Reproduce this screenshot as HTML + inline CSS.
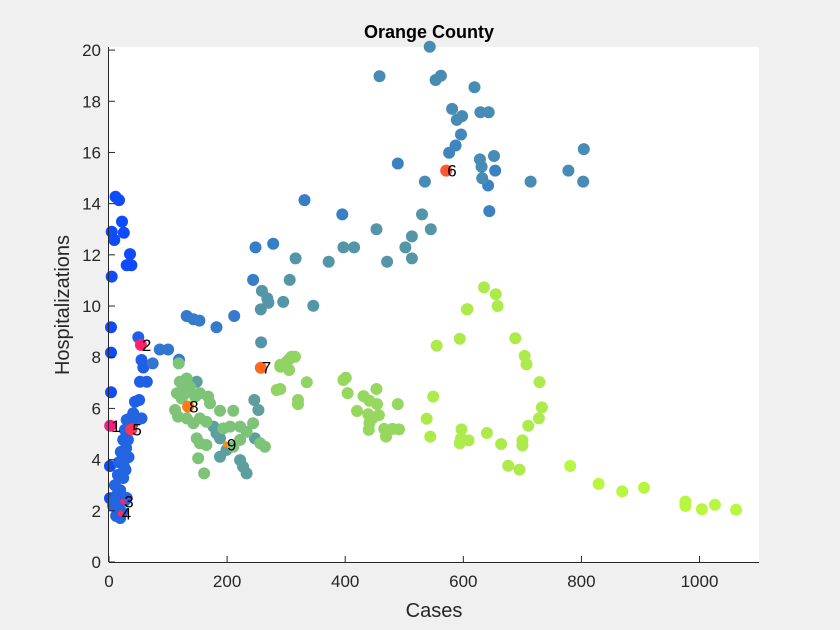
<!DOCTYPE html>
<html><head><meta charset="utf-8"><style>
html,body{margin:0;padding:0;background:#f0f0f0;}
svg{display:block;font-family:"Liberation Sans",sans-serif;}
</style></head><body>
<svg id="chart" width="840" height="630" viewBox="0 0 840 630" xmlns="http://www.w3.org/2000/svg">
<rect x="0" y="0" width="840" height="630" fill="#f0f0f0"/>
<rect x="109" y="47" width="650" height="515" fill="#ffffff"/>
<g id="marks"></g>
<g id="axes"></g>
<text x="429" y="38" text-anchor="middle" font-size="18" font-weight="bold" fill="#000">Orange County</text>
<text x="434" y="617" text-anchor="middle" font-size="20" fill="#262626">Cases</text>
<text transform="translate(69,305) rotate(-90)" text-anchor="middle" font-size="20" fill="#262626">Hospitalizations</text>
</svg>
<script>
// data arrays
const xs = [
11,17,22,4.5,25,9,35.6,30,38,4.5,3.4,3.4,3.4,1.7,1.7,
49.7,55,58,52.5,64,44,51,41,55,30,27,24,32,20,29,17,25,15,24,10,19,8,27,15,22,12,19,30,7,13,35,40,33,28,
118.5,86,100,74,131.5,143,153,182,212,248,278,244,331,395,489,644,642,654,587,576,596,
543,458,553,562,619,581,598,589,629,643,628,652,631,632,714,804,778,803,535,
306,259,268,270,257,295,346,316,372,397,415,453,471,502,513,513,530,545,257.5,
246,253,247,188,222,227,233,199,188,182,177,148.5,
118,131.5,126,120,137,115,129,123,146,154,168,171,188,210.5,112,117,131.5,143,154,165,193.5,205,222,233,244,256,264,148.5,154,165,210.5,222,151,161,
284,301,290,309,315,304,305,290,335,320,320,290,397,401,404,453,431,441,454,420,439,457,446,441,440,466,480,491,469,489,
635,655,658,607,606,594,555,688,704,707,729,733,728,710,700,700,664,640,676,695,549,538,544,597,609,594,596,
781,829,869,906,976,976,1004,1026,1062
];
const ys = [
14.27,14.14,13.3,12.9,12.86,12.58,12.03,11.59,11.59,11.15,9.17,8.18,6.63,3.75,2.49,
8.78,7.89,7.6,7.04,7.04,6.26,6.33,5.81,5.61,5.55,5.16,4.77,4.77,4.3,4.45,3.9,3.75,3.4,3.28,3.0,2.8,2.4,2.4,2.1,1.95,1.8,1.72,2.5,2.2,2.6,5.6,5.4,4.1,3.6,
7.9,8.3,8.3,7.76,9.61,9.48,9.43,9.17,9.61,12.29,12.43,11.02,14.14,13.58,15.57,13.71,14.71,15.29,16.27,15.99,16.7,
20.13,18.98,18.83,19.0,18.55,17.7,17.42,17.27,17.57,17.57,15.73,15.86,15.44,14.99,14.86,16.13,15.29,14.86,14.86,
11.02,10.59,10.3,10.13,9.87,10.16,10.01,11.86,11.73,12.29,12.29,13.0,11.73,12.29,11.86,12.72,13.58,13.0,8.58,
6.33,5.94,4.83,4.11,3.98,3.72,3.46,4.38,4.83,5.03,5.29,7.04,
7.76,7.17,6.98,7.04,6.85,6.59,6.59,6.39,6.46,6.59,6.46,6.2,5.91,5.91,5.94,5.68,5.61,5.42,5.61,5.48,5.22,5.29,5.29,5.09,5.42,4.64,4.5,4.83,4.64,4.57,4.5,4.77,4.05,3.46,
6.72,7.82,7.7,8.02,8.02,7.89,7.5,7.63,7.02,6.33,6.17,6.76,7.11,7.2,6.6,6.76,6.48,6.3,6.17,5.9,5.77,5.74,5.61,5.42,5.16,5.2,5.2,5.18,4.9,6.17,
10.73,10.46,10.0,9.88,9.87,8.72,8.45,8.74,8.05,7.72,7.03,6.04,5.61,5.32,4.75,4.55,4.61,5.04,3.76,3.61,6.46,5.6,4.9,5.18,4.75,4.64,4.83,
3.75,3.05,2.76,2.9,2.36,2.19,2.06,2.24,2.04
];
const ts = [
0.02,0.02,0.02,0.02,0.02,0.02,0.02,0.02,0.02,0.02,0.02,0.02,0.02,0.02,0.02,
0.1,0.1,0.1,0.1,0.1,0.1,0.1,0.12,0.12,0.12,0.12,0.12,0.12,0.12,0.12,0.12,0.12,0.12,0.12,0.12,0.12,0.12,0.12,0.12,0.12,0.12,0.12,0.12,0.12,0.12,0.12,0.12,0.12,0.12,
0.28,0.25,0.25,0.25,0.28,0.28,0.28,0.28,0.28,0.3,0.3,0.3,0.3,0.32,0.35,0.35,0.35,0.35,0.38,0.38,0.4,
0.45,0.45,0.45,0.45,0.45,0.45,0.45,0.45,0.45,0.45,0.45,0.45,0.45,0.45,0.45,0.45,0.45,0.45,0.45,
0.55,0.55,0.55,0.55,0.55,0.55,0.55,0.55,0.55,0.55,0.55,0.55,0.55,0.55,0.55,0.55,0.55,0.55,0.55,
0.6,0.6,0.6,0.6,0.6,0.6,0.6,0.6,0.6,0.6,0.6,0.6,
0.72,0.72,0.72,0.72,0.72,0.72,0.72,0.72,0.72,0.72,0.72,0.72,0.72,0.72,0.72,0.72,0.72,0.72,0.72,0.72,0.72,0.72,0.72,0.72,0.72,0.72,0.72,0.72,0.72,0.72,0.72,0.72,0.72,0.72,
0.8,0.8,0.8,0.8,0.8,0.8,0.8,0.8,0.8,0.8,0.8,0.8,0.82,0.82,0.82,0.82,0.82,0.82,0.82,0.82,0.82,0.82,0.82,0.82,0.82,0.82,0.82,0.82,0.82,0.82,
0.9,0.9,0.9,0.9,0.9,0.9,0.9,0.9,0.9,0.9,0.9,0.9,0.9,0.9,0.9,0.9,0.9,0.9,0.9,0.9,0.9,0.9,0.9,0.9,0.9,0.9,0.9,
0.97,0.97,0.97,0.97,0.97,0.97,0.97,0.97,0.97
];
const markX = [2,54,24,20,38,571,257,134,198];
const markY = [5.32,8.48,2.36,1.9,5.18,15.29,7.59,6.07,4.6];
const markLabels = ["1","2","3","4","5","6","7","8","9"];
const markColors = ["#ff1a7a","#ff2266","#ff2266","#ff2a60","#ff3355","#ff5533","#ff6622","#ff7a10","#ff8a10"];
const xTicks = [0,200,400,600,800,1000];
const yTicks = [0,2,4,6,8,10,12,14,16,18,20];

const X0=109, X1=759, Y0=562, Y1=47, XMAX=1100.7, YMAX=20.12;
function sx(v){return X0+v/XMAX*(X1-X0);}
function sy(v){return Y0-v/YMAX*(Y0-Y1);}
const stops=[[0,[10,70,255]],[0.12,[35,100,225]],[0.3,[55,125,200]],[0.45,[70,140,180]],[0.58,[88,152,165]],[0.72,[125,195,120]],[0.82,[150,215,95]],[0.9,[172,235,75]],[1,[190,250,60]]];
function cmap(t){
  for(let i=1;i<stops.length;i++){
    if(t<=stops[i][0]){
      const a=stops[i-1],b=stops[i],f=(t-a[0])/(b[0]-a[0]);
      const c=a[1].map((v,k)=>Math.round(v+(b[1][k]-v)*f));
      return 'rgb('+c.join(',')+')';
    }
  }
  return 'rgb(190,250,60)';
}
const NS='http://www.w3.org/2000/svg';
const marks=document.getElementById('marks');
const idx=xs.map((_,i)=>i).sort((a,b)=>ts[a]-ts[b]);
idx.forEach(i=>{
  const c=document.createElementNS(NS,'circle');
  c.setAttribute('cx',sx(xs[i]).toFixed(1));
  c.setAttribute('cy',sy(ys[i]).toFixed(1));
  c.setAttribute('r','6');
  c.setAttribute('fill',cmap(ts[i]));
  
  
  marks.appendChild(c);
});
markX.forEach((v,i)=>{
  const c=document.createElementNS(NS,'circle');
  c.setAttribute('cx',sx(v).toFixed(1));
  c.setAttribute('cy',sy(markY[i]).toFixed(1));
  c.setAttribute('r', i===2||i===3||i===8 ? '3' : '6');
  c.setAttribute('fill',markColors[i]);
  
  
  marks.appendChild(c);
  const t=document.createElementNS(NS,'text');
  t.setAttribute('x',(sx(v)+1).toFixed(1));
  t.setAttribute('y',(sy(markY[i])+6).toFixed(1));
  t.setAttribute('font-size','17');
  t.setAttribute('fill','#000');
  t.textContent=markLabels[i];
  
  
  marks.appendChild(t);
});
const axes=document.getElementById('axes');
function line(x1,y1,x2,y2,name){
  const l=document.createElementNS(NS,'line');
  l.setAttribute('x1',x1);l.setAttribute('y1',y1);l.setAttribute('x2',x2);l.setAttribute('y2',y2);
  l.setAttribute('stroke','#262626');l.setAttribute('stroke-width','1');
  
  
  axes.appendChild(l);
}
line(X0,Y0+0.5,X1,Y0+0.5,'x-axis-line');
line(X0-0.5,Y1,X0-0.5,Y0,'y-axis-line');
xTicks.forEach(v=>{
  const x=sx(v);
  line(x,Y0,x,Y0-6,'x-tick');
  const t=document.createElementNS(NS,'text');
  t.setAttribute('x',x.toFixed(1));t.setAttribute('y',Y0+25);
  t.setAttribute('text-anchor','middle');t.setAttribute('font-size','17');t.setAttribute('fill','#262626');
  t.textContent=String(v);
  
  
  axes.appendChild(t);
});
yTicks.forEach(v=>{
  const y=sy(v);
  line(X0,y,X0+6,y,'y-tick');
  const t=document.createElementNS(NS,'text');
  t.setAttribute('x',X0-8);t.setAttribute('y',(y+6).toFixed(1));
  t.setAttribute('text-anchor','end');t.setAttribute('font-size','17');t.setAttribute('fill','#262626');
  t.textContent=String(v);
  
  
  axes.appendChild(t);
});
</script>
</body></html>
